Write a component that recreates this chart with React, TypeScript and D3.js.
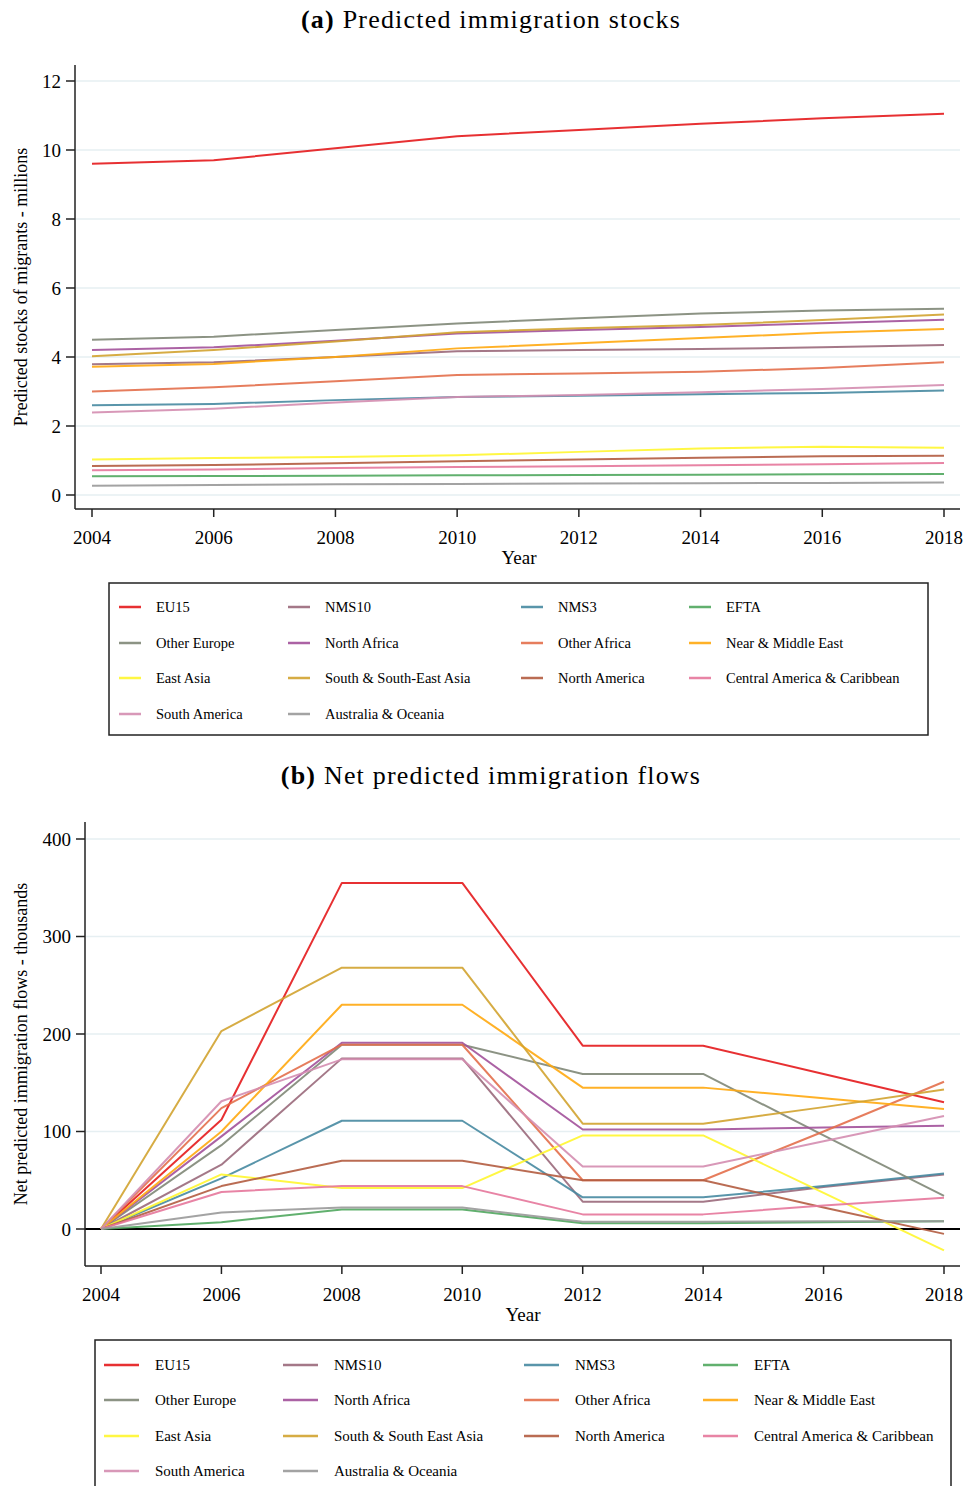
import React from "react";
import * as d3 from "d3";

const years = [2004, 2006, 2008, 2010, 2012, 2014, 2016, 2018];

const seriesNames = [
  "EU15", "NMS10", "NMS3", "EFTA",
  "Other Europe", "North Africa", "Other Africa", "Near & Middle East",
  "East Asia", "South & South-East Asia", "North America", "Central America & Caribbean",
  "South America", "Australia & Oceania",
];
const seriesNamesB = seriesNames.map((n) => (n === "South & South-East Asia" ? "South & South East Asia" : n));

// Panel (a): predicted stocks, millions
const stockEU15 = [9.6, 9.7, 10.05, 10.4, 10.58, 10.76, 10.92, 11.05];
const stockNMS10 = [3.79, 3.85, 4.0, 4.17, 4.2, 4.23, 4.28, 4.35];
const stockNMS3 = [2.6, 2.64, 2.75, 2.84, 2.88, 2.92, 2.96, 3.03];
const stockEFTA = [0.54, 0.55, 0.56, 0.57, 0.58, 0.59, 0.6, 0.61];
const stockOtherEurope = [4.5, 4.59, 4.78, 4.97, 5.12, 5.26, 5.35, 5.4];
const stockNorthAfrica = [4.2, 4.28, 4.47, 4.68, 4.78, 4.87, 4.98, 5.08];
const stockOtherAfrica = [3.0, 3.12, 3.3, 3.48, 3.52, 3.57, 3.68, 3.85];
const stockNearMiddleEast = [3.72, 3.8, 4.0, 4.25, 4.4, 4.55, 4.7, 4.81];
const stockEastAsia = [1.03, 1.07, 1.1, 1.15, 1.25, 1.35, 1.4, 1.37];
const stockSouthAsia = [4.02, 4.2, 4.45, 4.72, 4.83, 4.93, 5.07, 5.23];
const stockNorthAmerica = [0.84, 0.87, 0.92, 0.98, 1.03, 1.08, 1.12, 1.14];
const stockCentralAmerica = [0.72, 0.74, 0.78, 0.81, 0.83, 0.86, 0.89, 0.93];
const stockSouthAmerica = [2.39, 2.5, 2.68, 2.84, 2.9, 2.98, 3.07, 3.19];
const stockAustralia = [0.27, 0.29, 0.31, 0.32, 0.33, 0.34, 0.35, 0.36];

// Panel (b): net flows, thousands
const flowEU15 = [0, 112, 355, 355, 188, 188, 159, 130];
const flowNMS10 = [0, 66, 175, 175, 28, 28, 43, 56];
const flowNMS3 = [0, 52, 111, 111, 32.5, 32.5, 44, 57];
const flowEFTA = [0, 7, 20, 20, 6, 6, 7, 8];
const flowOtherEurope = [0, 86, 189, 189, 159, 159, 96, 34];
const flowNorthAfrica = [0, 95, 191, 191, 102, 102, 104, 106];
const flowOtherAfrica = [0, 124, 189, 189, 50, 50, 100, 151];
const flowNearMiddleEast = [0, 100, 230, 230, 145, 145, 134, 123];
const flowEastAsia = [0, 56, 42, 42, 96, 96, 37, -22];
const flowSouthAsia = [0, 203, 268, 268, 108, 108, 125, 143];
const flowNorthAmerica = [0, 44, 70, 70, 50, 50, 22, -5];
const flowCentralAmerica = [0, 38, 44, 44, 15, 15, 24, 32];
const flowSouthAmerica = [0, 131, 174, 174, 64, 64, 90, 116];
const flowAustralia = [0, 17, 22, 22, 7.5, 7.5, 8, 8];

const stockTicks = [0, 2, 4, 6, 8, 10, 12];
const flowTicks = [0, 100, 200, 300, 400];

const stocks = [
  stockEU15, stockNMS10, stockNMS3, stockEFTA, stockOtherEurope, stockNorthAfrica, stockOtherAfrica,
  stockNearMiddleEast, stockEastAsia, stockSouthAsia, stockNorthAmerica, stockCentralAmerica,
  stockSouthAmerica, stockAustralia,
];
const flows = [
  flowEU15, flowNMS10, flowNMS3, flowEFTA, flowOtherEurope, flowNorthAfrica, flowOtherAfrica,
  flowNearMiddleEast, flowEastAsia, flowSouthAsia, flowNorthAmerica, flowCentralAmerica,
  flowSouthAmerica, flowAustralia,
];

// Set1 ramped to 14 colours
const set1 = ["#e41a1c", "#377eb8", "#4daf4a", "#984ea3", "#ff7f00", "#ffff33", "#a65628", "#f781bf", "#999999"];
const ramp = d3.scaleLinear<string>().domain(set1.map((_, i) => i)).range(set1).interpolate(d3.interpolateLab);
const colors = seriesNames.map((_, i) => ramp((i * 8) / 13));

const FONT = "'Liberation Serif', 'Times New Roman', serif";
const GRID = "#e6eff2";

type PanelProps = {
  title: string;
  label: string;
  data: number[][];
  names: string[];
  ticks: number[];
  yDomain: [number, number];
  yRange: [number, number];
  xRange: [number, number];
  axisX: number;
  axisTop: number;
  axisBottom: number;
  axisRight: number;
  titleY: number;
  yTitle: string;
  yTitleX: number;
  yearY: number;
  yearX: number;
  zeroLine: boolean;
  legend: { x0: number; x1: number; y0: number; y1: number; cols: number[]; lineOff: number; lineLen: number; rows: number[]; fs: number };
};

function Panel(p: PanelProps) {
  const x = d3.scaleLinear().domain([2004, 2018]).range(p.xRange);
  const y = d3.scaleLinear().domain(p.yDomain).range(p.yRange);
  const line = d3.line<number>().x((_, i) => x(years[i])).y((d) => y(d));
  const yTitleY = (p.axisTop + p.axisBottom) / 2;
  return (
    <g>
      <text x={491} y={p.titleY} textAnchor="middle" dominantBaseline="central" fontFamily={FONT} fontSize={26} letterSpacing={1.2}>
        <tspan fontWeight="bold">{p.label}</tspan>
        <tspan>{" " + p.title}</tspan>
      </text>
      {p.ticks.map((t) => (
        <line key={"g" + t} x1={p.axisX + 1} x2={p.axisRight} y1={y(t)} y2={y(t)} stroke={GRID} strokeWidth={1.5} />
      ))}
      {p.zeroLine && (
        <line x1={p.axisX} x2={p.axisRight} y1={y(0)} y2={y(0)} stroke="#000" strokeWidth={2} />
      )}
      {p.data.map((s, i) => (
        <path key={i} d={line(s) || ""} fill="none" stroke={colors[i]} strokeOpacity={0.9} strokeWidth={2} strokeLinejoin="round" />
      ))}
      <line x1={p.axisX} x2={p.axisX} y1={p.axisTop} y2={p.axisBottom} stroke="#222" strokeWidth={1.5} />
      <line x1={p.axisX} x2={p.axisRight} y1={p.axisBottom} y2={p.axisBottom} stroke="#222" strokeWidth={1.5} />
      {p.ticks.map((t) => (
        <g key={"t" + t}>
          <line x1={p.axisX - 9} x2={p.axisX} y1={y(t)} y2={y(t)} stroke="#222" strokeWidth={1.5} />
          <text x={p.axisX - 14} y={y(t)} textAnchor="end" dominantBaseline="central" fontFamily={FONT} fontSize={19}>
            {t}
          </text>
        </g>
      ))}
      {d3.range(2004, 2019, 2).map((yr) => (
        <g key={"x" + yr}>
          <line x1={x(yr)} x2={x(yr)} y1={p.axisBottom} y2={p.axisBottom + 8} stroke="#222" strokeWidth={1.5} />
          <text x={x(yr)} y={p.axisBottom + 28} textAnchor="middle" dominantBaseline="central" fontFamily={FONT} fontSize={19}>
            {yr}
          </text>
        </g>
      ))}
      <text x={p.yearX} y={p.yearY} textAnchor="middle" dominantBaseline="central" fontFamily={FONT} fontSize={19}>
        Year
      </text>
      <text
        transform={`translate(${p.yTitleX},${yTitleY}) rotate(-90)`}
        textAnchor="middle"
        dominantBaseline="central"
        fontFamily={FONT}
        fontSize={18}
      >
        {p.yTitle}
      </text>
      <rect x={p.legend.x0} y={p.legend.y0} width={p.legend.x1 - p.legend.x0} height={p.legend.y1 - p.legend.y0} fill="none" stroke="#222" strokeWidth={1.5} />
      {p.names.map((n, i) => {
        const c = i % 4;
        const r = Math.floor(i / 4);
        const tx = p.legend.cols[c];
        const ty = p.legend.rows[r];
        return (
          <g key={n}>
            <line x1={tx - p.legend.lineOff} x2={tx - p.legend.lineOff + p.legend.lineLen} y1={ty} y2={ty} stroke={colors[i]} strokeOpacity={0.9} strokeWidth={2.5} />
            <text x={tx} y={ty} dominantBaseline="central" fontFamily={FONT} fontSize={p.legend.fs}>
              {n}
            </text>
          </g>
        );
      })}
    </g>
  );
}

export default function App() {
  return (
    <svg width={966} height={1486} style={{ position: "absolute", left: 0, top: 0, background: "#fff" }}>
      <rect width={966} height={1486} fill="#fff" />
      <Panel
        title="Predicted immigration stocks"
        label="(a)"
        data={stocks}
        names={seriesNames}
        ticks={stockTicks}
        yDomain={[0, 12]}
        yRange={[495, 81]}
        xRange={[92, 944]}
        axisX={75}
        axisTop={65}
        axisBottom={509}
        axisRight={960}
        titleY={19}
        yTitle="Predicted stocks of migrants - millions"
        yTitleX={21}
        yearX={519}
        yearY={557}
        zeroLine={false}
        legend={{ x0: 109, x1: 928, y0: 583, y1: 735, cols: [156, 325, 558, 726], lineOff: 37, lineLen: 22, rows: [607, 643, 678, 714], fs: 14.5 }}
      />
      <Panel
        title="Net predicted immigration flows"
        label="(b)"
        data={flows}
        names={seriesNamesB}
        ticks={flowTicks}
        yDomain={[0, 400]}
        yRange={[1229, 839]}
        xRange={[101, 944]}
        axisX={85}
        axisTop={822}
        axisBottom={1266}
        axisRight={960}
        titleY={775}
        yTitle="Net predicted immigration flows - thousands"
        yTitleX={21}
        yearX={523}
        yearY={1314}
        zeroLine={true}
        legend={{ x0: 95, x1: 951, y0: 1340, y1: 1500, cols: [155, 334, 575, 754], lineOff: 51, lineLen: 35, rows: [1365, 1400, 1436, 1471], fs: 15 }}
      />
    </svg>
  );
}
